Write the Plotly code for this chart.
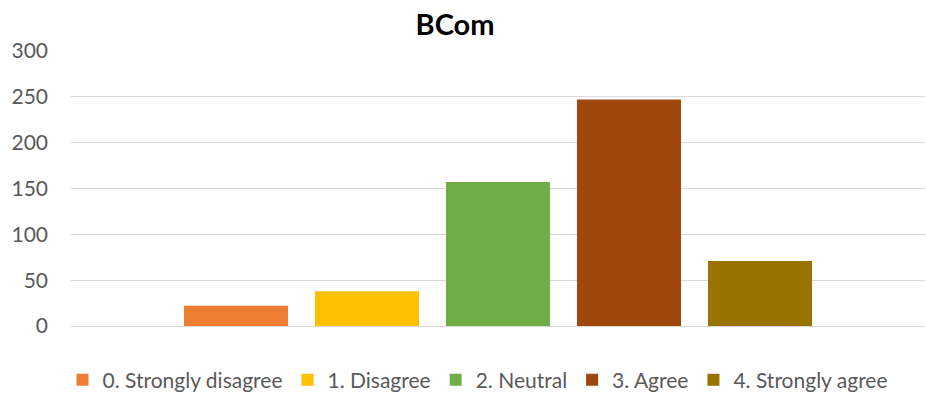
import plotly.graph_objects as go

# Survey responses for the BCom group
category = ["BCom"]
responses = ["0. Strongly disagree", "1. Disagree", "2. Neutral", "3. Agree", "4. Strongly agree"]
counts = [22, 38, 157, 247, 71]
colors = ["#ED7D31", "#FFC000", "#70AD47", "#9E480E", "#997300"]
y_ticks = [0, 50, 100, 150, 200, 250, 300]

FONT = "Lato, 'Open Sans', sans-serif"
W, H = 926, 397
L, R, T, B = 71, 1, 51, 71

fig = go.Figure()
for name, val, col in zip(responses, counts, colors):
    fig.add_trace(go.Bar(
        x=category, y=[val], name=name,
        marker=dict(color=col, line=dict(width=0)),
        hoverinfo="name+y",
    ))

fig.update_layout(
    width=W, height=H,
    margin=dict(l=L, r=R, t=T, b=B, pad=0, autoexpand=False),
    paper_bgcolor="white", plot_bgcolor="white",
    barmode="group", bargap=0.233, bargroupgap=0.206,
    title=dict(
        text="<b>BCom</b>",
        font=dict(family=FONT, size=29, color="#000000"),
        xref="container", x=455 / W, xanchor="center",
        yref="container", y=1 - 25 / H, yanchor="middle",
    ),
    xaxis=dict(showticklabels=False, showgrid=False, zeroline=False,
               showline=False, ticks=""),
    yaxis=dict(
        range=[0, 300], tickvals=y_ticks,
        tickfont=dict(family=FONT, size=21, color="#595959"),
        showgrid=True, gridcolor="#D9D9D9", gridwidth=1.3,
        zeroline=True, zerolinecolor="#D9D9D9", zerolinewidth=1.3,
        showline=False, ticks="", ticklabelstandoff=22,
    ),
    legend=dict(
        orientation="h", x=(478 - L) / (W - L - R), xanchor="center",
        y=(326 - 380) / (H - T - B), yanchor="middle",
        font=dict(family=FONT, size=21, color="#595959"),
        itemsizing="constant", itemwidth=30, traceorder="normal",
    ),
    showlegend=True,
)

fig.write_html("out.html")
